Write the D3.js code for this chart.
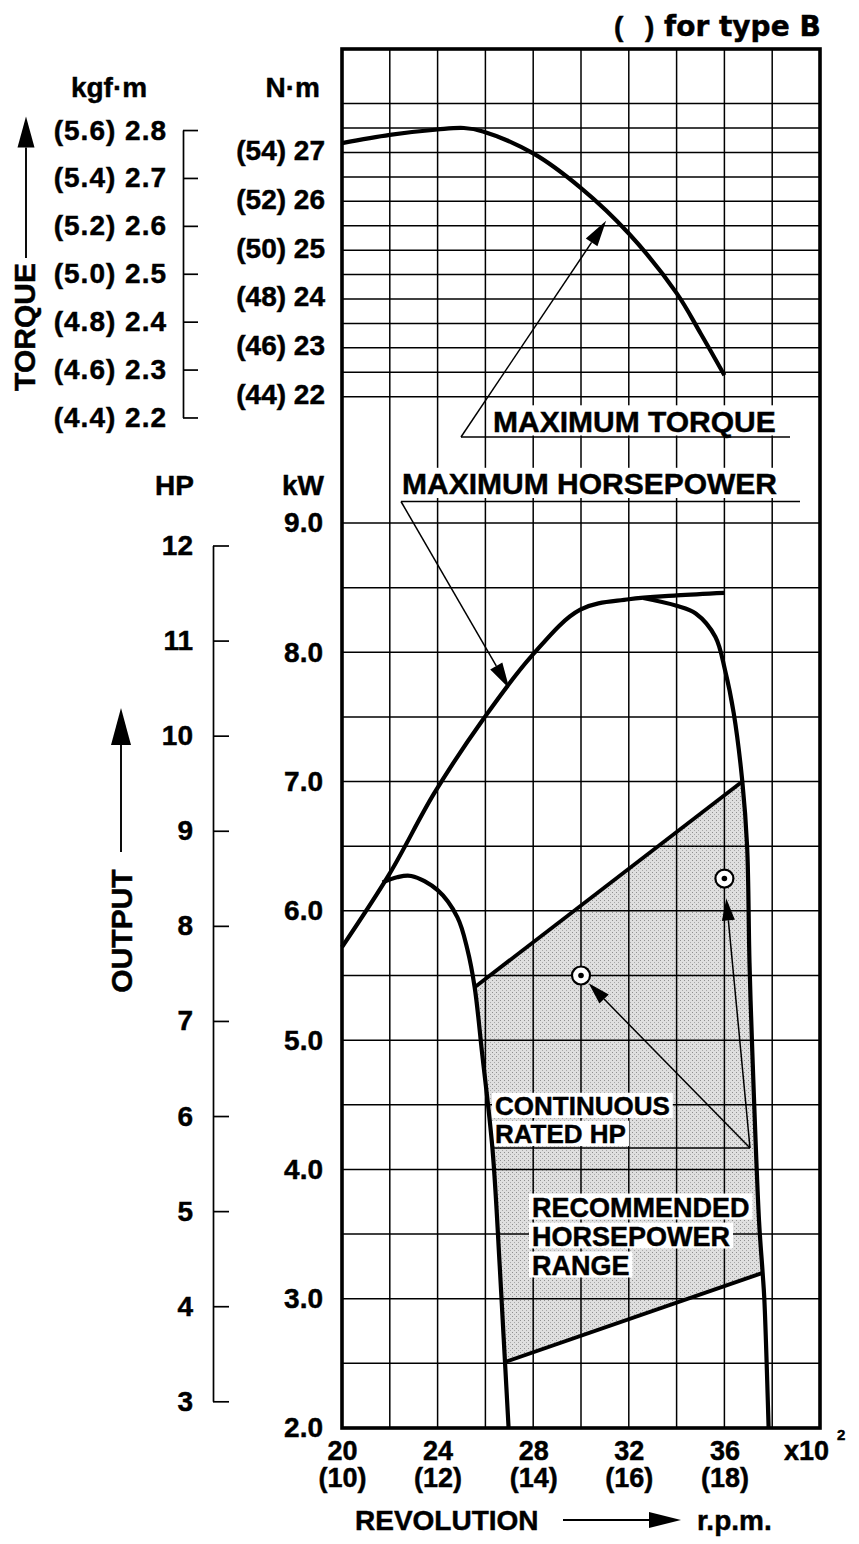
<!DOCTYPE html>
<html>
<head>
<meta charset="utf-8">
<script src="https://cdnjs.cloudflare.com/ajax/libs/d3/7.8.5/d3.min.js"></script>
<style>
body{margin:0;background:#fff;}
text{font-family:"Liberation Sans",Arial,sans-serif;font-weight:bold;fill:#000;stroke:#000;stroke-width:0.45px;}
</style>
</head>
<body>
<div id="plot"></div>
<script>
//tick labels
var rpmTicks = [20,24,28,32,36];
var rpmTicksB = ['(10)','(12)','(14)','(16)','(18)'];
var kwTicks = [2,3,4,5,6,7,8,9];
var hpTicks = [3,4,5,6,7,8,9,10,11,12];
var nmTicks = [22,23,24,25,26,27];
var nmTicksB = ['(44)','(46)','(48)','(50)','(52)','(54)'];
var kgfTicks = [2.2,2.3,2.4,2.5,2.6,2.7,2.8];
var kgfTicksB = ['(4.4)','(4.6)','(4.8)','(5.0)','(5.2)','(5.4)','(5.6)'];

//curves: [rpm x100, value]
var torqueCurve = [[20,27.19],[22,27.36],[24,27.47],[25.1,27.5],[25.9,27.43],[28,26.98],[30,26.27],[32,25.34],[34,24.12],[35,23.3],[36,22.44]];
var maxHpCurve = [[20,5.72],[22,6.29],[23.86,6.91],[25.9,7.48],[27.93,7.97],[29.97,8.33],[32,8.41],[34,8.44],[36,8.46]];
var govLeft = [[21.7,6.22],[22.3,6.26],[22.9,6.27],[24.0,6.16],[24.83,5.95],[25.25,5.7],[25.55,5.41],[25.85,4.92],[26.3,4.15],[26.6,3.25],[26.82,2.51],[26.97,2.0]];
var govRight = [[32.6,8.42],[34.0,8.36],[34.8,8.30],[35.62,8.12],[36.03,7.86],[36.39,7.53],[36.75,7.0],[36.95,6.5],[37.05,5.6],[37.17,4.9],[37.45,3.6],[37.6,3.2],[37.67,3.0],[37.85,2.0]];
var rangeTop = [[25.55,5.41],[36.75,7.0]];
var rangeBottom = [[26.82,2.51],[37.6,3.2]];
var ratedPoints = [[30,5.5],[36,6.25]];

var KGF = 9.80665, PS = 0.7355;

//drawing environment
var W = 859, H = 1544;
var plotL = 342, plotR = 820, plotT = 49, plotB = 1428;

var svg = d3.select('#plot')
	.append('svg')
	.attr('width',W)
	.attr('height',H);
svg.append('rect').attr('width',W).attr('height',H).attr('fill','#fff');

//stipple texture for the shaded range
var pat = svg.append('defs').append('pattern')
	.attr('id','stipple').attr('patternUnits','userSpaceOnUse')
	.attr('width',4).attr('height',4);
pat.append('rect').attr('width',4).attr('height',4).attr('fill','#dfdfdf');
pat.append('rect').attr('x',0).attr('y',0).attr('width',1).attr('height',1).attr('fill','#8f8f8f');
pat.append('rect').attr('x',2).attr('y',2).attr('width',1).attr('height',1).attr('fill','#a8a8a8');

var x = d3.scaleLinear().domain([20,40]).range([plotL,plotR]);
var yKw = d3.scaleLinear().domain([2,9]).range([plotB,523]);
var yNm = d3.scaleLinear().domain([22,28]).range([396.7,103.6]);

var kwLine = d3.line().x(function(d){return x(d[0]);}).y(function(d){return yKw(d[1]);}).curve(d3.curveCatmullRom.alpha(0.5));
var nmLine = d3.line().x(function(d){return x(d[0]);}).y(function(d){return yNm(d[1]);}).curve(d3.curveCatmullRom.alpha(0.5));
var polyLine = d3.line().x(function(d){return x(d[0]);}).y(function(d){return yKw(d[1]);});

//shaded recommended range
var shade = [rangeTop[0], rangeTop[1]]
	.concat(govRight.filter(function(d){return d[1] < rangeTop[1][1] && d[1] > rangeBottom[1][1];}))
	.concat([rangeBottom[1], rangeBottom[0]])
	.concat(govLeft.filter(function(d){return d[1] > rangeBottom[0][1] && d[1] < rangeTop[0][1];}).reverse());

svg.append('path')
	.attr('d', polyLine(shade) + 'Z')
	.attr('fill','url(#stipple)');

//grid
var grid = svg.append('g').attr('stroke','#000').attr('stroke-width',1.5);
grid.selectAll('.v').data(d3.range(22,40,2)).enter().append('line')
	.attr('x1',function(d){return x(d);}).attr('x2',function(d){return x(d);})
	.attr('y1',plotT).attr('y2',plotB);
grid.selectAll('.n').data(d3.range(22,28.01,0.5)).enter().append('line')
	.attr('x1',plotL).attr('x2',plotR)
	.attr('y1',function(d){return yNm(d);}).attr('y2',function(d){return yNm(d);});
grid.selectAll('.k').data(d3.range(2.5,9.01,0.5)).enter().append('line')
	.attr('x1',plotL).attr('x2',plotR)
	.attr('y1',function(d){return yKw(d);}).attr('y2',function(d){return yKw(d);});

svg.append('rect')
	.attr('x',plotL).attr('y',plotT)
	.attr('width',plotR-plotL).attr('height',plotB-plotT)
	.attr('fill','none').attr('stroke','#000').attr('stroke-width',3.6);

//helpers
function txt(g, s, px, py, size, anchor){
	return g.append('text').attr('x',px).attr('y',py)
		.attr('font-size',size).attr('text-anchor',anchor || 'start').text(s);
}
//multi-line label, each line on its own white box
function block(g, lines, px, py, size, step, pad){
	var boxes = g.append('g'), t = g.append('text').attr('font-size',size);
	lines.forEach(function(s, i){
		var ts = t.append('tspan').attr('x',px).attr('y',py+i*step).text(s);
		var w = ts.node().getComputedTextLength();
		boxes.append('rect')
			.attr('x',px-pad).attr('y',py+i*step-0.74*size-pad)
			.attr('width',w+2*pad).attr('height',0.74*size+2*pad)
			.attr('fill','#fff');
	});
	return t;
}
function arrow(g, x1, y1, x2, y2, len, half, w){
	var a = Math.atan2(y2-y1, x2-x1);
	var bx = x2 - len*Math.cos(a), by = y2 - len*Math.sin(a);
	g.append('line').attr('x1',x1).attr('y1',y1).attr('x2',bx).attr('y2',by)
		.attr('stroke','#000').attr('stroke-width',w || 1.5);
	g.append('polygon')
		.attr('points',[[x2,y2],[bx+half*Math.sin(a),by-half*Math.cos(a)],[bx-half*Math.sin(a),by+half*Math.cos(a)]].join(' '))
		.attr('fill','#000');
}

//annotation labels with white boxes
var ann = svg.append('g');
block(ann,['MAXIMUM TORQUE'],493,431.5,30,0,4);
block(ann,['MAXIMUM HORSEPOWER'],402,494,30,0,4);
block(ann,['CONTINUOUS','RATED HP'],495,1115,26,28,3);
block(ann,['RECOMMENDED','HORSEPOWER','RANGE'],532,1216.5,27,29,3);

//curves
var curves = svg.append('g').attr('fill','none').attr('stroke','#000').attr('stroke-width',4.2).attr('stroke-linejoin','round');
curves.append('path').attr('d',nmLine(torqueCurve));
curves.append('path').attr('d',kwLine(maxHpCurve));
curves.append('path').attr('d',kwLine(govLeft));
curves.append('path').attr('d',kwLine(govRight));
curves.append('path').attr('d',polyLine(rangeTop)).attr('stroke-width',3.8);
curves.append('path').attr('d',polyLine(rangeBottom)).attr('stroke-width',3.8);

//leaders
var lead = svg.append('g');
lead.append('line').attr('x1',461).attr('x2',790).attr('y1',437).attr('y2',437).attr('stroke','#000').attr('stroke-width',1.7);
arrow(lead, 461, 437, x(31.05), yNm(25.6), 26, 7);
lead.append('line').attr('x1',401).attr('x2',800).attr('y1',501.5).attr('y2',501.5).attr('stroke','#000').attr('stroke-width',1.7);
arrow(lead, 401, 501.5, x(27.0), yKw(7.72), 26, 7);
lead.append('line').attr('x1',493).attr('x2',750).attr('y1',1148).attr('y2',1148).attr('stroke','#000').attr('stroke-width',1.7);

//rated points
var r = 9;
ratedPoints.forEach(function(p, i){
	var cx = x(p[0]), cy = yKw(p[1]);
	var a = Math.atan2(1148-cy, 750-cx);
	var off = i === 0 ? r+2 : r+11;
	arrow(lead, 750, 1148, cx+off*Math.cos(a), cy+off*Math.sin(a), 22, 6.5);
	lead.append('circle').attr('cx',cx).attr('cy',cy).attr('r',r)
		.attr('fill','#fff').attr('stroke','#000').attr('stroke-width',2.2);
	lead.append('circle').attr('cx',cx).attr('cy',cy).attr('r',2.8).attr('fill','#000');
});

//axes
function styleAxis(g, size){
	g.attr('font-size',size).attr('color','#000');
	g.selectAll('line').attr('stroke-width',1.7);
	g.selectAll('path').attr('stroke-width',1.7);
}

var hpScale = d3.scaleLinear().domain([3,12]).range([yKw(3*PS), yKw(12*PS)]);
svg.append('g').attr('transform','translate(213,0)')
	.call(d3.axisLeft(hpScale).tickValues(hpTicks).tickSizeInner(-16).tickSizeOuter(0).tickPadding(20).tickFormat(d3.format('d')))
	.call(styleAxis, 28);

var kgfScale = d3.scaleLinear().domain([2.2,2.8]).range([yNm(2.2*KGF), yNm(2.8*KGF)]);
svg.append('g').attr('transform','translate(183,0)')
	.call(d3.axisLeft(kgfScale).tickValues(kgfTicks).tickSizeInner(-15).tickSizeOuter(0).tickPadding(16)
		.tickFormat(function(d,i){return kgfTicksB[i]+' '+d.toFixed(1);}))
	.call(styleAxis, 28)
	.selectAll('text').attr('letter-spacing',1);

svg.append('g').attr('transform','translate('+plotL+',0)')
	.call(d3.axisLeft(yKw).tickValues(kwTicks).tickSize(0).tickPadding(19).tickFormat(d3.format('.1f')))
	.call(styleAxis, 28)
	.select('.domain').remove();

svg.append('g').attr('transform','translate('+plotL+',0)')
	.call(d3.axisLeft(yNm).tickValues(nmTicks).tickSize(0).tickPadding(17)
		.tickFormat(function(d,i){return nmTicksB[i]+' '+d;}))
	.call(styleAxis, 28)
	.call(function(g){g.select('.domain').remove(); g.selectAll('text').attr('y',-2);});

svg.append('g').attr('transform','translate(0,'+plotB+')')
	.call(d3.axisBottom(x).tickValues(rpmTicks).tickSize(0).tickPadding(13))
	.call(styleAxis, 27)
	.select('.domain').remove();

svg.append('g').attr('transform','translate(0,'+plotB+')')
	.call(d3.axisBottom(x).tickValues(rpmTicks).tickSize(0).tickPadding(40).tickFormat(function(d,i){return rpmTicksB[i];}))
	.call(styleAxis, 27)
	.select('.domain').remove();

//titles
var ttl = svg.append('g');
txt(ttl,'kgf\u00b7m',109,97,28,'middle');
txt(ttl,'N\u00b7m',320,97,28,'end');
txt(ttl,'HP',194,495,28,'end');
txt(ttl,'kW',324,495,28,'end');
var tb = ttl.append('text').attr('y',36).attr('font-size',28);
tb.append('tspan').attr('x',614).text('(');
tb.append('tspan').attr('x',645).text(')');
tb.append('tspan').attr('x',664).attr('style','font-family:"DejaVu Sans",sans-serif').text('for type B');

txt(ttl,'x10',784,1460,27);
txt(ttl,'2',837,1440,15);
txt(ttl,'REVOLUTION',355,1530,28);
arrow(ttl, 563, 1520, 681, 1520, 32, 8, 1.9);
txt(ttl,'r.p.m.',697,1530,28);

ttl.append('text').attr('transform','translate(35,327) rotate(-90)')
	.attr('text-anchor','middle').attr('font-size',30).text('TORQUE');
arrow(ttl, 26, 258, 26, 116.5, 31, 8.5, 1.9);
ttl.append('text').attr('transform','translate(131.5,931) rotate(-90)')
	.attr('text-anchor','middle').attr('font-size',30).text('OUTPUT');
arrow(ttl, 121, 852, 121, 708, 37, 10, 1.9);
</script>
</body>
</html>
